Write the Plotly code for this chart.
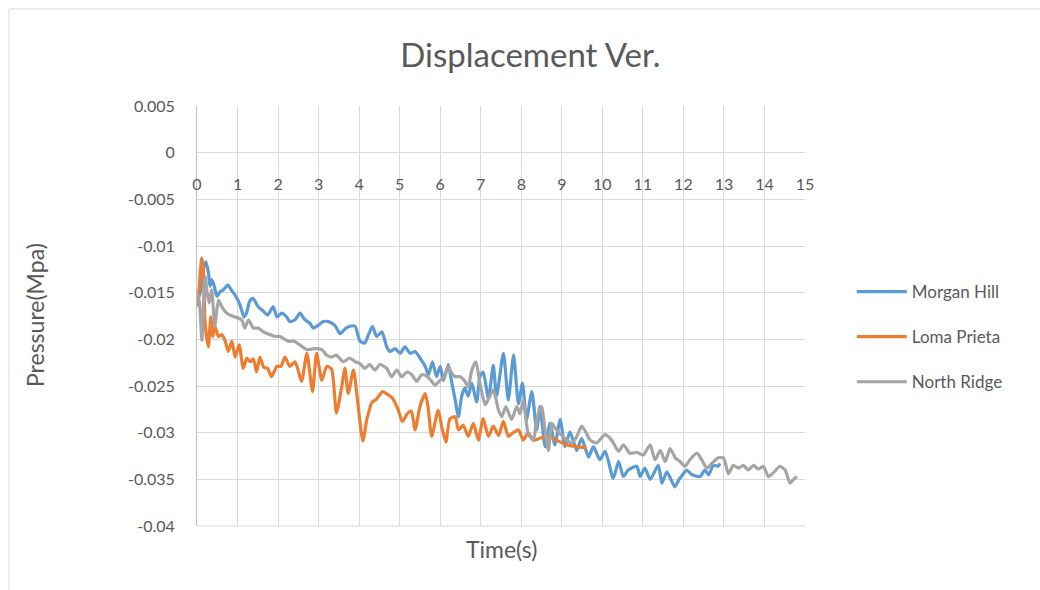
import plotly.graph_objects as go

# ---------------- data ----------------
mh_t = [0.00, 0.08, 0.16, 0.22, 0.28, 0.32, 0.36, 0.42, 0.49, 0.57, 0.65, 0.76, 0.86, 0.96, 1.06, 1.16, 1.22, 1.30, 1.38, 1.51,
        1.64, 1.74, 1.88, 1.97, 2.09, 2.21, 2.29, 2.42, 2.54, 2.66, 2.79, 2.87, 2.99, 3.12, 3.24, 3.40, 3.53, 3.65, 3.77, 3.90,
        4.02, 4.14, 4.23, 4.33, 4.43, 4.56, 4.68, 4.76, 4.89, 5.01, 5.13, 5.26, 5.38, 5.50, 5.63, 5.71, 5.81, 5.91, 6.00, 6.08,
        6.20, 6.28, 6.37, 6.45, 6.53, 6.61, 6.69, 6.78, 6.90, 6.98, 7.06, 7.19, 7.31, 7.39, 7.56, 7.68, 7.81, 7.93, 8.03, 8.13,
        8.26, 8.38, 8.46, 8.59, 8.71, 8.83, 8.96, 9.08, 9.20, 9.37, 9.49, 9.66, 9.78, 9.94, 10.07, 10.27, 10.40, 10.52, 10.64, 10.85,
        10.93, 11.05, 11.18, 11.38, 11.47, 11.59, 11.79, 11.88, 12.00, 12.08, 12.21, 12.41, 12.53, 12.62, 12.74, 12.86, 12.90]
mh_p = [-0.0160, -0.0150, -0.0124, -0.0117, -0.0128, -0.0143, -0.0136, -0.0142, -0.0154, -0.0149, -0.0147, -0.0142, -0.0148, -0.0154, -0.0163, -0.0176, -0.0172, -0.0159, -0.0156, -0.0165,
        -0.0170, -0.0174, -0.0165, -0.0176, -0.0172, -0.0176, -0.0181, -0.0179, -0.0172, -0.0179, -0.0183, -0.0188, -0.0185, -0.0181, -0.0181, -0.0185, -0.0194, -0.0189, -0.0186, -0.0186,
        -0.0202, -0.0204, -0.0195, -0.0186, -0.0197, -0.0192, -0.0208, -0.0213, -0.0210, -0.0215, -0.0208, -0.0215, -0.0213, -0.0220, -0.0229, -0.0238, -0.0224, -0.0240, -0.0229, -0.0244,
        -0.0227, -0.0245, -0.0265, -0.0283, -0.0261, -0.0252, -0.0261, -0.0247, -0.0267, -0.0240, -0.0235, -0.0263, -0.0228, -0.0261, -0.0215, -0.0265, -0.0217, -0.0269, -0.0247, -0.0286,
        -0.0256, -0.0297, -0.0272, -0.0315, -0.0290, -0.0313, -0.0286, -0.0315, -0.0299, -0.0319, -0.0306, -0.0326, -0.0315, -0.0329, -0.0320, -0.0349, -0.0331, -0.0347, -0.0340, -0.0336,
        -0.0347, -0.0338, -0.0350, -0.0335, -0.0354, -0.0342, -0.0358, -0.0351, -0.0344, -0.0340, -0.0345, -0.0347, -0.0340, -0.0345, -0.0335, -0.0336, -0.0333]

lp_t = [0.02, 0.12, 0.16, 0.20, 0.28, 0.34, 0.39, 0.44, 0.53, 0.61, 0.69, 0.77, 0.86, 0.94, 1.04, 1.14, 1.23, 1.31, 1.39, 1.47,
        1.55, 1.65, 1.74, 1.84, 1.97, 2.07, 2.17, 2.29, 2.42, 2.58, 2.71, 2.85, 2.95, 3.08, 3.20, 3.32, 3.44, 3.57, 3.65, 3.73,
        3.86, 3.96, 4.09, 4.19, 4.31, 4.43, 4.58, 4.70, 4.82, 4.95, 5.07, 5.20, 5.29, 5.38, 5.50, 5.63, 5.70, 5.79, 5.95, 6.04,
        6.14, 6.24, 6.37, 6.45, 6.57, 6.69, 6.82, 6.94, 7.06, 7.19, 7.31, 7.44, 7.56, 7.68, 7.80, 7.93, 8.05, 8.17, 8.30, 8.46,
        8.65, 8.87, 9.12, 9.37, 9.60]
lp_p = [-0.0165, -0.0113, -0.0126, -0.0183, -0.0208, -0.0176, -0.0197, -0.0186, -0.0197, -0.0195, -0.0201, -0.0213, -0.0202, -0.0219, -0.0206, -0.0231, -0.0220, -0.0224, -0.0221, -0.0235,
        -0.0219, -0.0230, -0.0231, -0.0240, -0.0229, -0.0229, -0.0219, -0.0229, -0.0224, -0.0245, -0.0215, -0.0256, -0.0215, -0.0244, -0.0229, -0.0232, -0.0279, -0.0251, -0.0231, -0.0258,
        -0.0233, -0.0265, -0.0309, -0.0286, -0.0268, -0.0264, -0.0256, -0.0259, -0.0263, -0.0274, -0.0288, -0.0279, -0.0277, -0.0297, -0.0272, -0.0258, -0.0272, -0.0304, -0.0276, -0.0294,
        -0.0310, -0.0285, -0.0283, -0.0297, -0.0292, -0.0304, -0.0290, -0.0308, -0.0285, -0.0304, -0.0293, -0.0303, -0.0288, -0.0304, -0.0300, -0.0297, -0.0308, -0.0300, -0.0308, -0.0306,
        -0.0304, -0.0308, -0.0313, -0.0315, -0.0316]

nr_t = [0.00, 0.06, 0.12, 0.16, 0.20, 0.25, 0.30, 0.36, 0.40, 0.44, 0.53, 0.61, 0.69, 0.81, 0.94, 1.10, 1.18, 1.27, 1.39, 1.51,
        1.64, 1.80, 1.93, 2.05, 2.25, 2.40, 2.54, 2.71, 2.90, 3.08, 3.20, 3.32, 3.44, 3.61, 3.77, 3.90, 4.02, 4.14, 4.26, 4.39,
        4.51, 4.68, 4.80, 4.93, 5.05, 5.18, 5.30, 5.42, 5.54, 5.66, 5.79, 5.87, 6.00, 6.10, 6.20, 6.28, 6.37, 6.49, 6.61, 6.69,
        6.78, 6.88, 6.98, 7.11, 7.21, 7.31, 7.44, 7.52, 7.62, 7.76, 7.89, 7.97, 8.05, 8.17, 8.30, 8.38, 8.50, 8.59, 8.67, 8.75,
        8.87, 9.00, 9.12, 9.24, 9.36, 9.49, 9.60, 9.70, 9.86, 10.07, 10.23, 10.40, 10.52, 10.68, 10.85, 11.01, 11.18, 11.30, 11.43, 11.55,
        11.67, 11.80, 11.92, 12.04, 12.16, 12.33, 12.45, 12.58, 12.70, 12.86, 12.99, 13.11, 13.23, 13.36, 13.48, 13.60, 13.73, 13.85, 13.97, 14.10,
        14.24, 14.38, 14.51, 14.63, 14.72, 14.80]
nr_p = [-0.0151, -0.0160, -0.0201, -0.0165, -0.0133, -0.0150, -0.0161, -0.0147, -0.0165, -0.0186, -0.0158, -0.0165, -0.0170, -0.0174, -0.0176, -0.0179, -0.0188, -0.0179, -0.0188, -0.0188,
        -0.0192, -0.0195, -0.0197, -0.0197, -0.0202, -0.0202, -0.0206, -0.0211, -0.0210, -0.0211, -0.0217, -0.0219, -0.0217, -0.0224, -0.0220, -0.0224, -0.0226, -0.0231, -0.0227, -0.0233,
        -0.0227, -0.0231, -0.0240, -0.0233, -0.0240, -0.0235, -0.0238, -0.0245, -0.0238, -0.0239, -0.0245, -0.0249, -0.0244, -0.0240, -0.0229, -0.0236, -0.0240, -0.0240, -0.0245, -0.0251,
        -0.0233, -0.0224, -0.0247, -0.0270, -0.0262, -0.0254, -0.0276, -0.0283, -0.0272, -0.0286, -0.0272, -0.0280, -0.0265, -0.0301, -0.0308, -0.0286, -0.0272, -0.0299, -0.0319, -0.0290,
        -0.0297, -0.0303, -0.0308, -0.0311, -0.0305, -0.0293, -0.0300, -0.0308, -0.0311, -0.0302, -0.0308, -0.0320, -0.0313, -0.0322, -0.0321, -0.0324, -0.0313, -0.0329, -0.0319, -0.0331,
        -0.0317, -0.0327, -0.0331, -0.0336, -0.0329, -0.0322, -0.0329, -0.0338, -0.0333, -0.0327, -0.0327, -0.0344, -0.0335, -0.0338, -0.0335, -0.0340, -0.0335, -0.0339, -0.0336, -0.0347,
        -0.0342, -0.0336, -0.0340, -0.0354, -0.0350, -0.0347]

series_names = ["Morgan Hill", "Loma Prieta", "North Ridge"]
series_colors = ["#5B9BD5", "#ED7D31", "#A5A5A5"]

x_tick_vals = list(range(0, 16))
x_tick_text = [str(v) for v in x_tick_vals]
y_tick_vals = [0.005, 0, -0.005, -0.01, -0.015, -0.02, -0.025, -0.03, -0.035, -0.04]
y_tick_text = ["0.005", "0", "-0.005", "-0.01", "-0.015", "-0.02", "-0.025", "-0.03", "-0.035", "-0.04"]

# ---------------- figure ----------------
FONT = "Lato"
TXT = "#595959"
GRID = "#D9D9D9"

fig = go.Figure()
for name, color, t, p in zip(series_names, series_colors, [mh_t, lp_t, nr_t], [mh_p, lp_p, nr_p]):
    fig.add_trace(go.Scatter(
        x=t, y=p, mode="lines", name=name, legendgroup=name,
        line=dict(color=color, width=3.2, shape="spline", smoothing=0.6),
    ))

fig.update_layout(
    width=1040, height=590,
    margin=dict(l=197, r=235, t=106, b=64),
    paper_bgcolor="white", plot_bgcolor="white",
    font=dict(family=FONT, color=TXT, size=16),
    title=dict(text="Displacement Ver.", x=0.51, xanchor="center", y=1 - 55 / 590, yanchor="middle",
               font=dict(family=FONT, size=33, color=TXT)),
    showlegend=True,
    legend=dict(x=1.077, xanchor="left", y=0.60, yanchor="top", tracegroupgap=20, itemwidth=50,
                font=dict(family=FONT, size=17, color=TXT), bgcolor="rgba(0,0,0,0)"),
    xaxis=dict(range=[0, 15], tickvals=x_tick_vals, ticktext=x_tick_text,
               showgrid=True, gridcolor=GRID, gridwidth=1, zeroline=False, showline=False,
               anchor="free", position=(526 - 152.7) / 420,
               ticks="outside", ticklen=17, tickcolor="rgba(0,0,0,0)",
               tickfont=dict(family=FONT, size=16, color=TXT)),
    yaxis=dict(range=[-0.04, 0.005], tickvals=y_tick_vals, ticktext=y_tick_text,
               showgrid=True, gridcolor=GRID, gridwidth=1, zeroline=True, zerolinecolor=GRID, zerolinewidth=1,
               showline=True, linecolor="#BFBFBF", linewidth=1,
               ticks="outside", ticklen=18, tickcolor="rgba(0,0,0,0)",
               tickfont=dict(family=FONT, size=16, color=TXT)),
    annotations=[
        dict(text="Time(s)", xref="paper", yref="paper", x=(501 - 197) / 608, y=(526 - 549) / 420,
             xanchor="center", yanchor="middle", showarrow=False, font=dict(family=FONT, size=23, color=TXT)),
        dict(text="Pressure(Mpa)", xref="paper", yref="paper", x=(35 - 197) / 608, y=(526 - 315) / 420,
             xanchor="center", yanchor="middle", textangle=-90, showarrow=False,
             font=dict(family=FONT, size=23, color=TXT)),
    ],
    shapes=[
        dict(type="rect", xref="paper", yref="paper", x0=(9 - 197) / 608, x1=(1100 - 197) / 608,
             y0=(526 - 650) / 420, y1=(526 - 9) / 420, line=dict(color=GRID, width=1), fillcolor="rgba(0,0,0,0)",
             layer="below"),
        dict(type="line", xref="paper", yref="paper", x0=0, x1=1, y0=0, y1=0, line=dict(color=GRID, width=1)),
    ],
)

fig.write_html("out.html")
